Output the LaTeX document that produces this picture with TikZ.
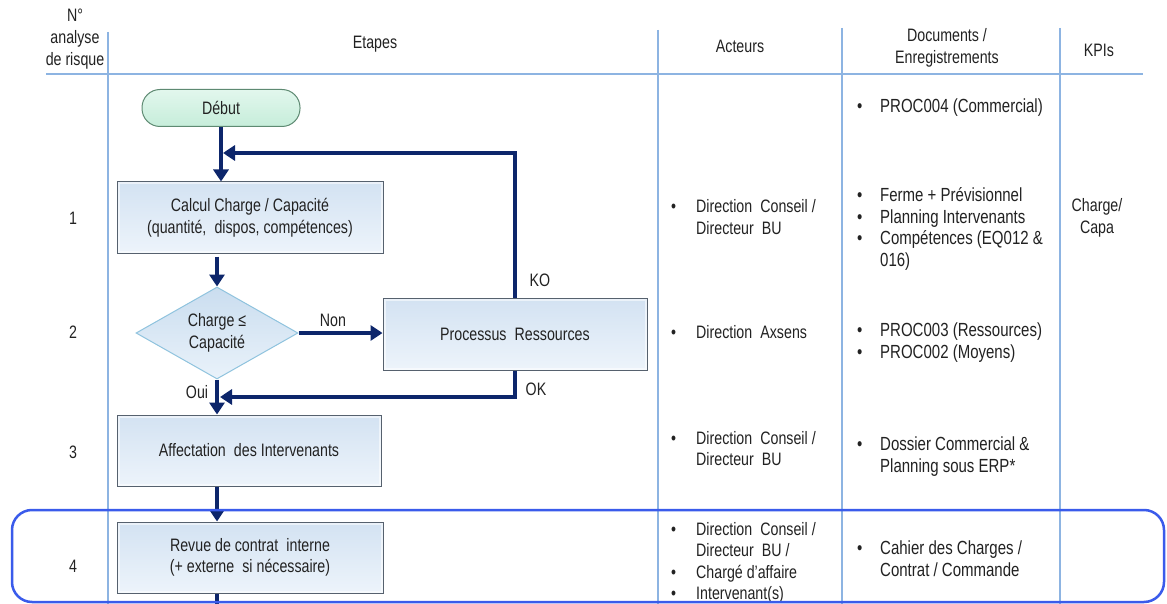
\documentclass[tikz,border=0pt]{standalone}
\usepackage{fontspec}
\setmainfont[FakeStretch=0.79]{Liberation Sans}
\usetikzlibrary{arrows.meta,shapes.geometric}
\definecolor{navy}{HTML}{0D266B}
\definecolor{gridc}{HTML}{8DB4E2}
\definecolor{boxborder}{HTML}{56616E}
\definecolor{boxtop}{HTML}{D3E2F2}
\definecolor{boxbot}{HTML}{EDF4FB}
\definecolor{diaborder}{HTML}{8FC3DE}
\definecolor{diatop}{HTML}{CADDEF}
\definecolor{diabot}{HTML}{E9F2FA}
\definecolor{starttop}{HTML}{E2F7ED}
\definecolor{startbot}{HTML}{C6EDDA}
\definecolor{startborder}{HTML}{5E8A72}
\definecolor{hilite}{HTML}{3A5BEB}
\definecolor{txt}{HTML}{222222}
\newcommand{\actcell}[1]{\begin{tabular}[t]{@{}p{25pt}@{}l@{}}#1\end{tabular}}
\newcommand{\doccell}[1]{\begin{tabular}[t]{@{}p{23pt}@{}l@{}}#1\end{tabular}}
\newcommand{\wsp}{\hspace{0.45em}}
\begin{document}
\begin{tikzpicture}[x=1pt,y=-1pt,
  font=\fontsize{18}{21.5}\selectfont, text=txt,
  gridline/.style={draw=gridc, line width=1.2pt},
  flowbox/.style={rectangle, draw=boxborder, line width=1pt, top color=boxtop, bottom color=boxbot,
    minimum width=266pt, minimum height=71pt, align=center, inner sep=2pt,
    path picture={\draw[white, line width=5pt, opacity=0.55]
      (path picture bounding box.north west) rectangle (path picture bounding box.south east);}},
  startbox/.style={rectangle, rounded corners=18pt, draw=startborder, line width=1pt,
    top color=starttop, bottom color=startbot, minimum width=158pt, minimum height=37pt, inner sep=2pt},
  decision/.style={diamond, draw=diaborder, line width=1pt, top color=diatop, bottom color=diabot,
    minimum width=162pt, minimum height=92pt, aspect=1.76, inner sep=0pt, align=center},
  flow/.style={draw=navy, line width=4pt, -{Triangle[length=12pt,width=15pt]}},
  plain/.style={draw=navy, line width=4pt},
  lbl/.style={inner sep=0pt},
  hdr/.style={align=center, inner sep=0pt, font=\fontsize{18}{22}\selectfont},
  actc/.style={anchor=base west, inner sep=0pt, font=\fontsize{18}{21.5}\selectfont},
  docc/.style={anchor=base west, inner sep=0pt, font=\fontsize{19}{21.7}\selectfont},
  hilitebox/.style={draw=hilite, line width=2.5pt, rounded corners=20pt}
]
\fill[white] (0,0) rectangle (1167,604);
\useasboundingbox (0,0) rectangle (1167,604);

% grid
\draw[gridline] (46,74) -- (1143,74);
\draw[gridline] (108,32) -- (108,604);
\draw[gridline] (658,30) -- (658,604);
\draw[gridline] (842,28) -- (842,604);
\draw[gridline] (1060,28) -- (1060,604);

% headers
\node[hdr] (hnum) at (75,39) {N°\\analyse\\de risque};
\node[hdr] (hetapes) at (375,44) {Etapes};
\node[hdr] (hacteurs) at (740,46) {Acteurs};
\node[hdr] (hdocs) at (947,48) {Documents /\\Enregistrements};
\node[hdr] (hkpi) at (1099,50) {KPIs};

% row numbers
\node[lbl] (n1) at (73,218) {1};
\node[lbl] (n2) at (73,332) {2};
\node[lbl] (n3) at (73,452) {3};
\node[lbl] (n4) at (73,566) {4};

% flow nodes
\node[startbox] (debut) at (221,108) {Début};
\node[flowbox] (calc) at (250,217.5) {Calcul Charge / Capacité\\(quantité,\wsp dispos, compétences)};
\node[decision] (dec) at (217,333) {Charge ≤\\Capacité};
\node[flowbox, minimum width=264pt, minimum height=72pt] (proc) at (515,334) {Processus\wsp Ressources};
\node[flowbox, minimum width=264pt] (aff) at (249,450.5) {Affectation\wsp des Intervenants};
\node[flowbox] (revue) at (250,557.5) {Revue de contrat\wsp interne\\(+ externe\wsp si nécessaire)};
\coordinate (kj) at (223,153);
\coordinate (oj) at (220,397);
\coordinate (bottomend) at (217,604);

% connectors
\draw[flow] (debut.south) -- (debut.south |- calc.north);
\draw[flow] (proc.north) |- (kj);
\draw[flow, shorten <=3pt] (calc.south -| dec.north) -- (dec.north);
\draw[flow] (dec.east) -- (dec.east -| proc.west);
\draw[flow] (proc.south) |- (oj);
\draw[flow] (dec.south) -- (dec.south |- aff.north);
\draw[flow] (aff.south -| dec.south) -- (revue.north -| dec.south);
\draw[plain] (revue.south -| dec.south) -- (bottomend);

% connector labels
\node[lbl] (lnon) at (333,320) {Non};
\node[lbl] (lko) at (540,280) {KO};
\node[lbl] (lok) at (536,389) {OK};
\node[lbl] (loui) at (197,392) {Oui};

% acteurs
\node[actc] (a1) at (671,213) {\actcell{•& Direction\wsp Conseil /\\ & Directeur\wsp BU}};
\node[actc] (a2) at (671,338) {\actcell{•& Direction\wsp Axsens}};
\node[actc] (a3) at (671,444) {\actcell{•& Direction\wsp Conseil /\\ & Directeur\wsp BU}};
\node[actc] (a4) at (671,535) {\actcell{•& Direction\wsp Conseil /\\ & Directeur\wsp BU /\\ •& Chargé d’affaire\\ •& Intervenant(s)}};

% documents
\node[docc] (d0) at (857,112.5) {\doccell{•& PROC004 (Commercial)}};
\node[docc] (d1) at (857,201.5) {\doccell{•& Ferme + Prévisionnel\\ •& Planning Intervenants\\ •& Compétences (EQ012 \&\\ & 016)}};
\node[docc] (d2) at (857,336.5) {\doccell{•& PROC003 (Ressources)\\ •& PROC002 (Moyens)}};
\node[docc] (d3) at (857,450.5) {\doccell{•& Dossier Commercial \&\\ & Planning sous ERP*}};
\node[docc] (d4) at (857,554.5) {\doccell{•& Cahier des Charges /\\ & Contrat / Commande}};

% KPIs
\node[hdr] (k1) at (1097,217.5) {Charge/\\Capa};

% highlight
\draw[hilitebox] (12,510) rectangle (1164,602);
\end{tikzpicture}
\end{document}
